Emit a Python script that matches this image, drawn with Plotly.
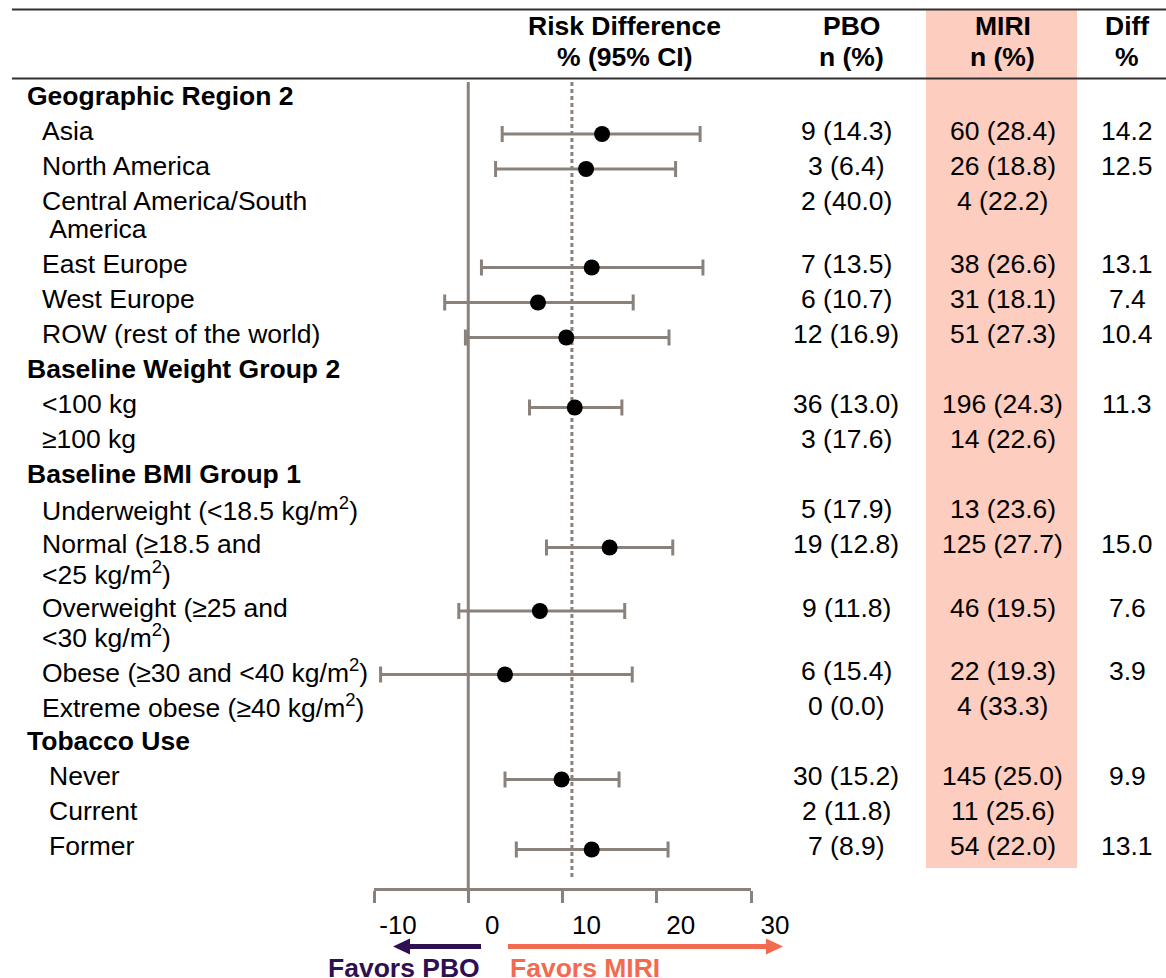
import plotly.graph_objects as go

W, H = 1166, 978

# ---------------- data ----------------
row_labels = [
    "Geographic Region 2",
    "Asia",
    "North America",
    "Central America/South<br>\u00a0America",
    "East Europe",
    "West Europe",
    "ROW (rest of the world)",
    "Baseline Weight Group 2",
    "<100 kg",
    "\u2265100 kg",
    "Baseline BMI Group 1",
    "Underweight (<18.5 kg/m<sup>2</sup>)",
    "Normal (\u226518.5 and<br><25 kg/m<sup>2</sup>)",
    "Overweight (\u226525 and<br><30 kg/m<sup>2</sup>)",
    "Obese (\u226530 and <40 kg/m<sup>2</sup>)",
    "Extreme obese (\u226540 kg/m<sup>2</sup>)",
    "Tobacco Use",
    "Never",
    "Current",
    "Former",
]
row_level = [0, 1, 1, 1, 1, 1, 1, 0, 1, 1, 0, 1, 1, 1, 1, 1, 0, 2, 2, 2]

pbo_n    = [None, 9, 3, 2, 7, 6, 12, None, 36, 3, None, 5, 19, 9, 6, 0, None, 30, 2, 7]
pbo_pct  = [None, 14.3, 6.4, 40.0, 13.5, 10.7, 16.9, None, 13.0, 17.6, None, 17.9, 12.8, 11.8, 15.4, 0.0, None, 15.2, 11.8, 8.9]
miri_n   = [None, 60, 26, 4, 38, 31, 51, None, 196, 14, None, 13, 125, 46, 22, 4, None, 145, 11, 54]
miri_pct = [None, 28.4, 18.8, 22.2, 26.6, 18.1, 27.3, None, 24.3, 22.6, None, 23.6, 27.7, 19.5, 19.3, 33.3, None, 25.0, 25.6, 22.0]
risk_diff = [None, 14.2, 12.5, None, 13.1, 7.4, 10.4, None, 11.3, None, None, None, 15.0, 7.6, 3.9, None, None, 9.9, None, 13.1]
ci_low    = [None, 3.6, 2.9, None, 1.4, -2.5, -0.3, None, 6.5, None, None, None, 8.3, -1.0, -9.3, None, None, 3.9, None, 5.1]
ci_high   = [None, 24.6, 22.0, None, 24.9, 17.5, 21.3, None, 16.3, None, None, None, 21.7, 16.6, 17.4, None, None, 16.0, None, 21.2]
overall_rd = 11.0

x_ticks = [-10, 0, 10, 20, 30]
x_range = [-10, 30]

# ---------------- style / layout ----------------
FONT = "Arial, 'Liberation Sans', Helvetica, sans-serif"
FS = 26.5
GRAY = "#8a817b"
PINK = "#fdcdbf"
PURPLE = "#2e0f52"
CORAL = "#f26a50"

Y0, PITCH, LINE = 95.5, 35, 28.5
AX_TOP, AX_BOT = 82, 888
MARK_DY = 3.5
INDENT = {0: 26, 1: 41, 2: 48}
X_PBO, X_MIRI, X_DIFF = 846, 1003, 1127


def px(x):
    return x / W


def py(y):
    return 1 - y / H


# row positions (pixel units on the y axis)
row_y = []
extra = 0
for lab in row_labels:
    row_y.append(Y0 + len(row_y) * PITCH + extra * LINE)
    extra += lab.count("<br>")

fig = go.Figure()

# forest points with CIs
idx = [i for i, v in enumerate(risk_diff) if v is not None]
fig.add_trace(go.Scatter(
    x=[risk_diff[i] for i in idx],
    y=[row_y[i] + MARK_DY for i in idx],
    mode="markers",
    marker=dict(size=16, color="black"),
    error_x=dict(
        type="data", symmetric=False,
        array=[ci_high[i] - risk_diff[i] for i in idx],
        arrayminus=[risk_diff[i] - ci_low[i] for i in idx],
        color=GRAY, thickness=3, width=8,
    ),
    showlegend=False, hoverinfo="skip", cliponaxis=False,
))

shapes = []
# MIRI column shading
shapes.append(dict(type="rect", xref="paper", yref="paper",
                   x0=px(926), x1=px(1077), y0=py(868), y1=py(10),
                   fillcolor=PINK, line=dict(width=0), layer="below"))
# horizontal rules
for yy in (9.5, 78.5):
    shapes.append(dict(type="line", xref="paper", yref="paper",
                       x0=px(12), x1=1, y0=py(yy), y1=py(yy),
                       line=dict(color="#303030", width=2)))
# zero line and overall line
shapes.append(dict(type="line", xref="x", yref="y", x0=0, x1=0,
                   y0=AX_TOP, y1=AX_BOT, line=dict(color=GRAY, width=3), layer="below"))
shapes.append(dict(type="line", xref="x", yref="y", x0=overall_rd, x1=overall_rd,
                   y0=AX_TOP, y1=AX_BOT - 8, line=dict(color=GRAY, width=3, dash="4px,3px"),
                   layer="below"))

# favour arrows
AY = 946.5
shapes.append(dict(type="line", xref="paper", yref="paper", x0=px(481), x1=px(405),
                   y0=py(AY), y1=py(AY), line=dict(color=PURPLE, width=5)))
shapes.append(dict(type="path", xref="paper", yref="paper",
                   path=f"M {px(393)} {py(AY)} L {px(410)} {py(AY-8)} L {px(410)} {py(AY+8)} Z",
                   fillcolor=PURPLE, line=dict(width=0)))
shapes.append(dict(type="line", xref="paper", yref="paper", x0=px(508), x1=px(770),
                   y0=py(AY), y1=py(AY), line=dict(color=CORAL, width=5)))
shapes.append(dict(type="path", xref="paper", yref="paper",
                   path=f"M {px(783)} {py(AY)} L {px(766)} {py(AY-8)} L {px(766)} {py(AY+8)} Z",
                   fillcolor=CORAL, line=dict(width=0)))

ann = []


def text(x, y, s, xanchor="left", bold=False, color="black", yref="y"):
    ann.append(dict(x=x, y=y, xref="paper", yref=yref, text=f"<b>{s}</b>" if bold else s,
                    showarrow=False, xanchor=xanchor, yanchor="middle", borderpad=0,
                    font=dict(family=FONT, size=FS, color=color)))


# headers
for lines, xc in (( ["Risk Difference", "% (95% CI)"], 624),
                  (["PBO", "n (%)"], 851),
                  (["MIRI", "n (%)"], 1003),
                  (["Diff", "%"], 1127)):
    for k, s in enumerate(lines):
        text(px(xc), py(26.5 + 30 * k), s, xanchor="center", bold=True, yref="paper")

# row labels and table
for i, lab in enumerate(row_labels):
    lines = lab.split("<br>")
    for k, s in enumerate(lines):
        text(px(INDENT[row_level[i]]), row_y[i] + k * LINE, s, bold=(row_level[i] == 0))
    if pbo_n[i] is not None:
        text(px(X_PBO), row_y[i], f"{pbo_n[i]} ({pbo_pct[i]:.1f})", xanchor="center")
        text(px(X_MIRI), row_y[i], f"{miri_n[i]} ({miri_pct[i]:.1f})", xanchor="center")
    if risk_diff[i] is not None:
        text(px(X_DIFF), row_y[i], f"{risk_diff[i]:.1f}", xanchor="center")

# favour labels
text(px(481), py(968), "Favors PBO", xanchor="right", bold=True, color=PURPLE, yref="paper")
text(px(509), py(968), "Favors MIRI", xanchor="left", bold=True, color=CORAL, yref="paper")

fig.update_layout(
    template="none",
    width=W, height=H, autosize=False,
    margin=dict(l=0, r=0, t=0, b=0, pad=0, autoexpand=False),
    paper_bgcolor="white", plot_bgcolor="rgba(0,0,0,0)",
    showlegend=False,
    shapes=shapes, annotations=ann,
    font=dict(family=FONT, size=FS, color="black"),
    xaxis=dict(
        range=x_range, domain=[px(374), px(751)],
        tickvals=x_ticks, ticktext=[str(t) for t in x_ticks],
        ticks="outside", ticklen=12, tickwidth=3, tickcolor=GRAY,
        showline=True, linecolor=GRAY, linewidth=3,
        showgrid=False, zeroline=False, automargin=False,
        ticklabelshift=24, ticklabelstandoff=0,
        tickfont=dict(family=FONT, size=26, color="black"),
        fixedrange=True,
    ),
    yaxis=dict(
        range=[AX_BOT, AX_TOP], domain=[py(AX_BOT), py(AX_TOP)],
        visible=False, fixedrange=True, automargin=False,
    ),
)

fig.write_html(
    "out.html",
    config={"responsive": False, "displayModeBar": False},
    post_script="document.body.style.margin='0';document.body.style.overflow='hidden';",
)
